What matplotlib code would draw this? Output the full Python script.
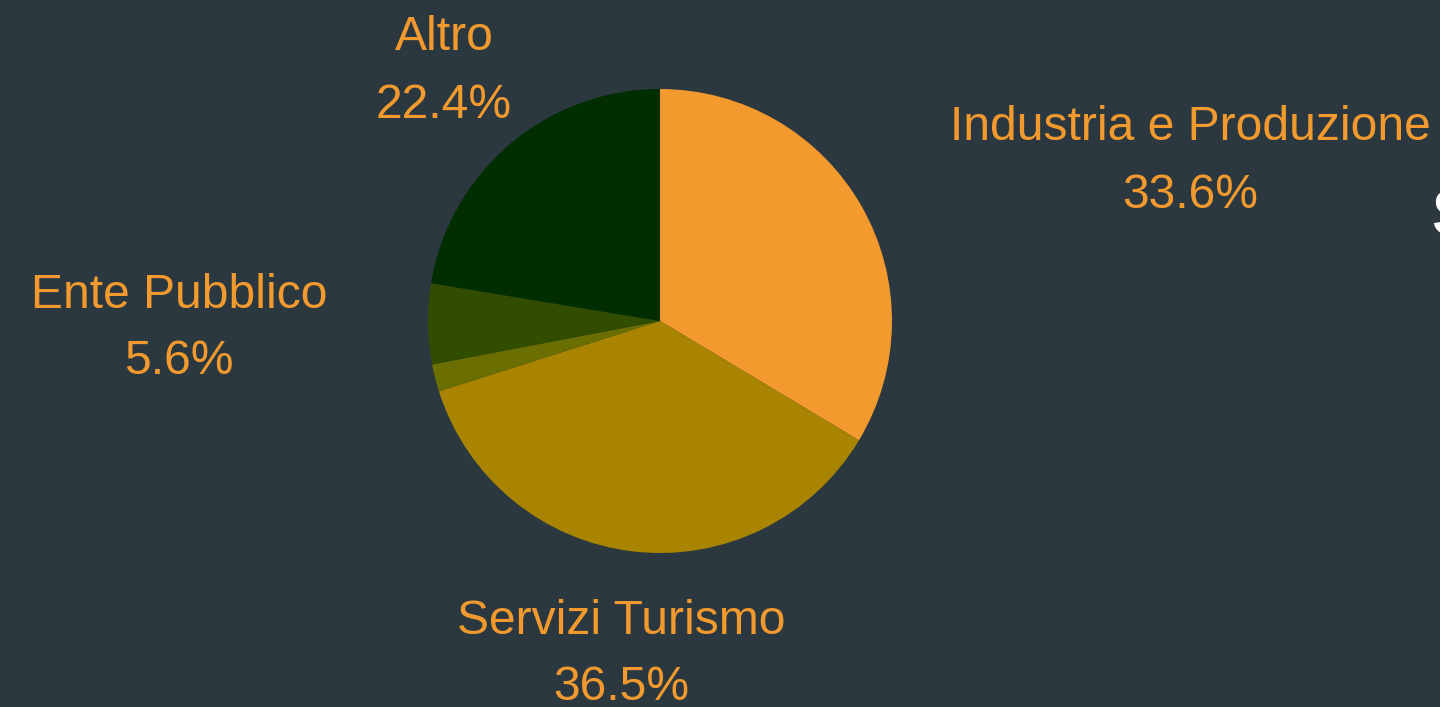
import matplotlib
matplotlib.use("Agg")
import matplotlib.pyplot as plt

categories = ["Industria e Produzione", "Servizi Turismo", "", "Ente Pubblico", "Altro"]
values = [33.6, 36.5, 1.9, 5.6, 22.4]
colors = ["#F39A2F", "#A88400", "#6B6E00", "#314D00", "#002E00"]
label_pos = [(1190, 128), (621, 621), None, (179, 295), (444, 38)]

W, H = 1440, 707
bg = "#2B3840"
fig = plt.figure(figsize=(W / 100, H / 100), dpi=100, facecolor=bg)
ax = fig.add_axes([0, 0, 1, 1])
ax.set_facecolor(bg)

ax.pie(values, colors=colors, startangle=90, counterclock=False,
       center=(660, H - 321), radius=232, frame=True,
       wedgeprops=dict(linewidth=0))
ax.set_xlim(0, W)
ax.set_ylim(0, H)
ax.set_aspect("equal")
ax.axis("off")

fam = ["Liberation Sans", "DejaVu Sans"]
for cat, v, pos in zip(categories, values, label_pos):
    if pos is None:
        continue
    x, y = pos
    ax.text(x, H - y, cat, color="#F39A2F", fontsize=34.6, ha="center", va="center", family=fam)
    ax.text(x, H - y - 67, f"{v:.1f}%", color="#F39A2F", fontsize=34.6, ha="center", va="center", family=fam)

ax.text(1431, H - 218, "S", color="white", fontsize=46, fontweight="bold",
        ha="left", va="center", family=fam)

fig.savefig("out.png", dpi=100, facecolor=bg)
